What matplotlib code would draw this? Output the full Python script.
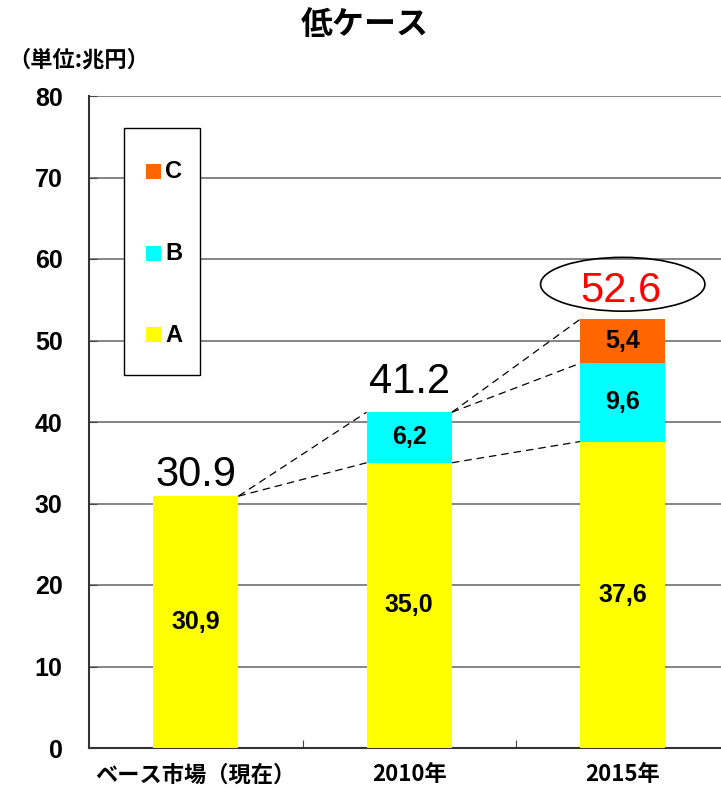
import matplotlib
matplotlib.use("Agg")
import matplotlib.pyplot as plt
from matplotlib.patches import Ellipse, Rectangle
import numpy as np

## data
categories = ["ベース市場（現在）", "2010年", "2015年"]
seg_a = [30.9, 35.0, 37.6]
seg_b = [0.0, 6.2, 9.6]
seg_c = [0.0, 0.0, 5.4]
totals = ["30.9", "41.2", "52.6"]
legend_names = ["C", "B", "A"]

col_a = "#FFFF00"
col_b = "#00FFFF"
col_c = "#FF6600"

cjk = ["Noto Sans CJK JP", "DejaVu Sans"]
num = ["Liberation Sans", "DejaVu Sans"]

fig = plt.figure(figsize=(7.21, 7.91), dpi=100)
W, H = 721.0, 791.0
# axes runs a bit past the right edge, like the original
ax = fig.add_axes([89 / W, 43 / H, 640.5 / W, 652 / H])

x = np.arange(len(categories))
bw = 0.4
a = np.array(seg_a)
b = np.array(seg_b)
c = np.array(seg_c)

ax.bar(x, a, bw, color=col_a, zorder=3)
ax.bar(x, b, bw, bottom=a, color=col_b, zorder=3)
ax.bar(x, c, bw, bottom=a + b, color=col_c, zorder=3)

# segment labels (comma decimal like the source)
def lab(v):
    return ("%.1f" % v).replace(".", ",")

for i in range(len(x)):
    ax.text(x[i], a[i] / 2, lab(a[i]), ha="center", va="center",
            fontsize=18, fontweight="bold", family=num, zorder=5)
    if b[i] > 0:
        ax.text(x[i], a[i] + b[i] / 2, lab(b[i]), ha="center", va="center",
                fontsize=18, fontweight="bold", family=num, zorder=5)
    if c[i] > 0:
        ax.text(x[i], a[i] + b[i] + c[i] / 2, lab(c[i]), ha="center", va="center",
                fontsize=18, fontweight="bold", family=num, zorder=5)

tops = a + b + c
offs = [1.2, 2.4, 2.1]
for i in range(len(x)):
    colr = "red" if i == len(x) - 1 else "black"
    ax.text(x[i] - (0.01 if i == 2 else 0), tops[i] + offs[i], totals[i],
            ha="center", va="baseline", fontsize=30, color=colr, family=num, zorder=6)

ax.add_patch(Ellipse((x[2], tops[2] + 4.3), 0.77, 6.6, fill=False,
                     edgecolor="black", linewidth=1.2, zorder=6))

# dashed connectors between bars
dash = dict(color="black", linewidth=0.9, linestyle=(0, (6, 4)), zorder=4)
cum1 = [a, a + b, a + b + c]
for i in range(len(x) - 1):
    x0 = x[i] + bw / 2
    x1 = x[i + 1] - bw / 2
    levels_here = sorted(set([round(v[i], 2) for v in cum1]))
    levels_next = sorted(set([round(v[i + 1], 2) for v in cum1]))
    # each level of the left bar to the matching level of the next bar,
    # plus the left top to the next top
    for k, lv in enumerate(levels_here):
        ax.plot([x0, x1], [lv, levels_next[k]], **dash)
    ax.plot([x0, x1], [levels_here[-1], levels_next[-1]], **dash)

ax.set_xlim(-0.5, 2.5)
ax.set_ylim(0, 80)
ax.set_yticks(np.arange(0, 81, 10))
ax.yaxis.grid(True, color="#707070", linewidth=1.2, zorder=0)
ax.set_axisbelow(True)
ax.set_xticks([0.5, 1.5])
ax.set_xticklabels([])
ax.tick_params(axis="x", direction="in", length=6, color="#444444")
ax.tick_params(axis="y", direction="in", length=6, color="#444444", pad=19)
for t in ax.get_yticklabels():
    t.set_fontsize(18)
    t.set_fontweight("bold")
    t.set_family(num)
for i in range(len(x)):
    ax.text(x[i], -3.3, categories[i], ha="center", va="center",
            fontsize=16, fontweight="bold", family=cjk)

for s in ["top", "right"]:
    ax.spines[s].set_visible(False)
for s in ["left", "bottom"]:
    ax.spines[s].set_color("#333333")
    ax.spines[s].set_linewidth(1.5)

# legend box drawn by hand
fig.patches.append(Rectangle((124 / W, 1 - 375 / H), 76 / W, 247 / H,
                             transform=fig.transFigure, facecolor="white",
                             edgecolor="black", linewidth=1.0, zorder=10))
leg_cols = [col_c, col_b, col_a]
leg_y = [171, 253, 335]
for i in range(3):
    fig.patches.append(Rectangle((146 / W, 1 - (leg_y[i] + 7.5) / H), 15 / W, 15 / H,
                                 transform=fig.transFigure, facecolor=leg_cols[i],
                                 edgecolor="none", zorder=11))
    fig.text(165 / W, 1 - leg_y[i] / H, legend_names[i], ha="left", va="center",
             fontsize=17, fontweight="bold", family=num, zorder=12)

fig.text(365 / W, 1 - 25 / H, "低ケース", ha="center", va="center",
         fontsize=23, fontweight="bold", family=cjk)
fig.text(8 / W, 1 - 60 / H, "（単位:兆円）", ha="left", va="center",
         fontsize=16, fontweight="bold", family=cjk)

fig.savefig("out.png", dpi=100)
